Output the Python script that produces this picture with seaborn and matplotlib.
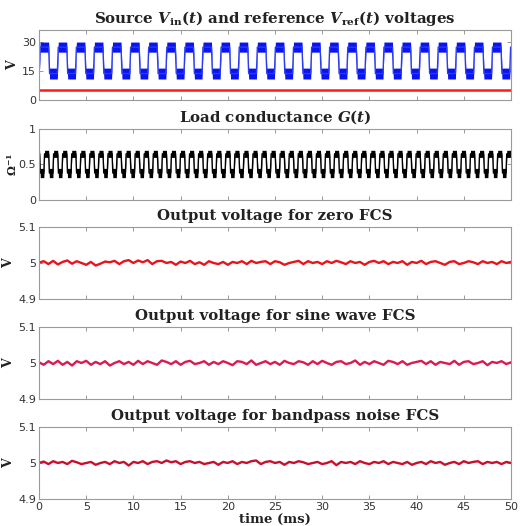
import numpy as np
import pandas as pd
import matplotlib
matplotlib.use("Agg")
import matplotlib.pyplot as plt
import seaborn as sns

# ---------------- data ----------------
time_ticks_ms = [0, 5, 10, 15, 20, 25, 30, 35, 40, 45, 50]

# source voltage: square wave, switching instants (ms) and levels (V)
vin_rise_ms = [0.07, 1.99, 3.91, 5.82, 7.74, 9.66, 11.57, 13.49, 15.41, 17.32,
               19.24, 21.16, 23.08, 24.99, 26.91, 28.83, 30.74, 32.66, 34.58,
               36.49, 38.41, 40.33, 42.24, 44.16, 46.08, 47.99, 49.91]
vin_fall_ms = [1.07, 2.99, 4.91, 6.82, 8.74, 10.66, 12.57, 14.49, 16.41, 18.32,
               20.24, 22.16, 24.08, 25.99, 27.91, 29.83, 31.74, 33.66, 35.58,
               37.49, 39.41, 41.33, 43.24, 45.16, 47.08, 48.99]
vin_levels_v = [13.6, 27.2]          # low, high
vin_noise_v = [2.8, 2.6]             # half-width of the noise band (low, high)
vref_v = 5.0

# load conductance: square wave
g_rise_ms = [0.55, 1.51, 2.47, 3.43, 4.39, 5.35, 6.31, 7.27, 8.23, 9.19, 10.15,
             11.11, 12.07, 13.03, 13.99, 14.95, 15.91, 16.87, 17.83, 18.79,
             19.75, 20.71, 21.67, 22.63, 23.59, 24.55, 25.51, 26.47, 27.43,
             28.39, 29.35, 30.31, 31.27, 32.23, 33.19, 34.15, 35.11, 36.07,
             37.03, 37.99, 38.95, 39.91, 40.87, 41.83, 42.79, 43.75, 44.71,
             45.67, 46.63, 47.59, 48.55, 49.51]
g_fall_ms = [0.10, 1.06, 2.02, 2.98, 3.94, 4.90, 5.86, 6.82, 7.78, 8.74, 9.70,
             10.66, 11.62, 12.58, 13.54, 14.50, 15.46, 16.42, 17.38, 18.34,
             19.30, 20.26, 21.22, 22.18, 23.14, 24.10, 25.06, 26.02, 26.98,
             27.94, 28.90, 29.86, 30.82, 31.78, 32.74, 33.70, 34.66, 35.62,
             36.58, 37.54, 38.50, 39.46, 40.42, 41.38, 42.34, 43.30, 44.26,
             45.22, 46.18, 47.14, 48.10, 49.06]
g_levels = [0.38, 0.65]
g_noise = [0.065, 0.05]

# output voltages: deviation from 5 V in mV, sampled every 0.5 ms
out_zero_mv = [1, 5, -3, 6, -4, 3, 7, -2, 5, 0, -5, 3, -7, -2, 4, 2, 6, -3, 5, 8,
               0, 7, 2, 8, -3, 5, 6, 0, 3, -5, 4, 0, 6, -3, 2, -5, 5, 0, -3, 3,
               -5, 3, 0, 5, -3, 6, 0, 3, 5, -3, 5, 2, -5, 0, 3, 6, -3, 5, 0, 3,
               -3, 5, 0, 6, 2, -3, 5, 0, 3, -5, 3, 6, 0, 5, -3, 3, 0, 5, -5, 3,
               0, 6, -3, 3, 5, 0, -5, 3, 5, -3, 0, 5, 2, -3, 5, 0, 3, -3, 5, 0, 3]
out_sine_mv = [2, -5, 5, -3, 6, -5, 3, -7, 5, 0, 6, -5, 3, -3, 5, -7, 0, 5, -3, 3,
               -5, 6, -3, 5, 0, -5, 7, 3, -3, 5, -5, 3, 6, -3, 0, 5, -5, 3, -3, 5,
               0, -6, 5, 3, -3, 7, -5, 0, 5, -3, 3, -5, 6, 0, -3, 5, 2, -5, 5, -3,
               6, 0, -5, 3, 5, -3, 0, 7, -5, 3, -3, 5, 0, -5, 6, 3, -3, 5, -5, 0,
               3, 6, -3, 5, -5, 3, 0, -3, 6, -5, 3, 5, -3, 0, 5, -6, 3, 0, 5, -3, 2]
out_band_mv = [0, 4, -3, 5, 0, 3, -3, 6, 2, -3, 0, 3, -5, 0, 3, -3, 5, 0, 3, -7,
               3, 0, 5, -3, 3, 5, 0, 7, 2, 5, -3, 3, 5, 0, 3, -3, 0, 3, -5, 3,
               0, 5, -3, 3, 0, 5, 7, -3, 3, 5, 0, 3, -5, 3, 0, 5, 2, -3, 0, 3,
               -3, 0, 5, -6, 3, 0, 3, -3, 5, 0, -3, 3, 0, 5, -3, 3, 0, -3, 3, -5,
               0, 3, -3, 5, 0, 3, -5, 0, 3, -3, 5, 0, 3, 5, -3, 3, 0, 3, -3, 3, 0]

titles = [r"Source $V_{\rm in}(t)$ and reference $V_{\rm ref}(t)$ voltages",
          r"Load conductance $G(t)$",
          "Output voltage for zero FCS",
          "Output voltage for sine wave FCS",
          "Output voltage for bandpass noise FCS"]
ylabels = ["V", r"$\Omega^{-1}$", "V", "V", "V"]
yticks = [[0, 15, 30], [0, 0.5, 1], [4.9, 5, 5.1], [4.9, 5, 5.1], [4.9, 5, 5.1]]
yticklabels = [["0", "15", "30"], ["0", "0.5", "1"], ["4.9", "5", "5.1"],
               ["4.9", "5", "5.1"], ["4.9", "5", "5.1"]]
ylims = [(0, 36), (0, 1), (4.9, 5.1), (4.9, 5.1), (4.9, 5.1)]

# ---------------- styling ----------------
sns.set_theme(style="white")
plt.rcParams.update({
    "font.family": ["DejaVu Sans"],
    "mathtext.fontset": "custom",
    "mathtext.rm": "DejaVu Serif:bold",
    "mathtext.it": "DejaVu Serif:bold:italic",
    "mathtext.bf": "DejaVu Serif:bold",
})

T_END = 50.0


def square_points(rises, falls, lo, hi, start_high, ramp):
    events = sorted([(r, 1) for r in rises] + [(f, 0) for f in falls])
    t = [0.0]
    v = [hi if start_high else lo]
    for te, up in events:
        a, b = (lo, hi) if up else (hi, lo)
        t += [max(0.0, te - ramp / 2), min(T_END, te + ramp / 2)]
        v += [a, b]
    t.append(T_END)
    v.append(v[-1])
    return np.array(t), np.array(v)


def band(v, lo, hi, w_lo, w_hi):
    frac = (v - lo) / (hi - lo)
    w = w_lo + (w_hi - w_lo) * frac
    return v - w, v + w


fig = plt.figure(figsize=(5.2, 5.26), dpi=100)
W, H = 520.0, 526.0
x0, x1 = 39, 511
rows = [(30, 100), (129, 200), (227, 299), (327, 399), (427, 499)]
axes = []
for (top, bot) in rows:
    ax = fig.add_axes([x0 / W, 1 - bot / H, (x1 - x0) / W, (bot - top) / H])
    axes.append(ax)

# panel 1
tv, vv = square_points(vin_rise_ms, vin_fall_ms, vin_levels_v[0], vin_levels_v[1], False, 0.1)
lo_v, hi_v = band(vv, vin_levels_v[0], vin_levels_v[1], vin_noise_v[0], vin_noise_v[1])
ax = axes[0]
ax.fill_between(tv, lo_v, hi_v, color="#0a14f0", lw=0)
sns.lineplot(x=tv, y=vv, ax=ax, color="#2a3cf0", lw=1.0, estimator=None, sort=False)
sns.lineplot(x=[0, T_END], y=[vref_v, vref_v], ax=ax, color="#ff1a1a", lw=1.8,
             estimator=None)

# panel 2
tg, vg = square_points(g_rise_ms, g_fall_ms, g_levels[0], g_levels[1], True, 0.08)
lo_g, hi_g = band(vg, g_levels[0], g_levels[1], g_noise[0], g_noise[1])
ax = axes[1]
ax.fill_between(tg, lo_g, hi_g, color="black", lw=0)
sns.lineplot(x=tg, y=vg, ax=ax, color="black", lw=1.0, estimator=None, sort=False)

# panels 3-5
out_colors = ["#e8141c", "#d81b50", "#c8102e"]
for ax, mv, col in zip(axes[2:], [out_zero_mv, out_sine_mv, out_band_mv], out_colors):
    df = pd.DataFrame({"t": np.linspace(0, T_END, len(mv)),
                       "v": 5.0 + np.array(mv) / 1000.0})
    sns.lineplot(data=df, x="t", y="v", ax=ax, color=col, lw=1.7, estimator=None)

for i, ax in enumerate(axes):
    ax.set_xlim(0, T_END)
    ax.set_ylim(*ylims[i])
    ax.set_xticks(time_ticks_ms)
    ax.set_yticks(yticks[i])
    ax.set_yticklabels(yticklabels[i])
    ax.tick_params(direction="in", length=3, width=0.6, colors="#888888",
                   labelcolor="#333333", labelsize=8, top=True, right=True,
                   bottom=True, left=True, pad=2)
    for s in ax.spines.values():
        s.set_color("#9a9a9a")
        s.set_linewidth(0.8)
    ax.set_title(titles[i], fontsize=10.8, fontweight="bold", family="DejaVu Serif",
                 pad=5, color="#222222")
    ax.set_ylabel(ylabels[i], fontsize=9, fontweight="bold", family="DejaVu Serif",
                  labelpad=2, color="#222222")
    ax.set_xlabel("")
    if i < 4:
        ax.set_xticklabels([])
    else:
        ax.set_xticklabels([str(v) for v in time_ticks_ms])

axes[1].yaxis.label.set_fontsize(8)
axes[1].yaxis.labelpad = 0

axes[-1].set_xlabel("time (ms)", fontsize=9.5, fontweight="bold", family="DejaVu Serif",
                    labelpad=1, color="#222222")

fig.savefig("out.png", dpi=100, facecolor="white")
